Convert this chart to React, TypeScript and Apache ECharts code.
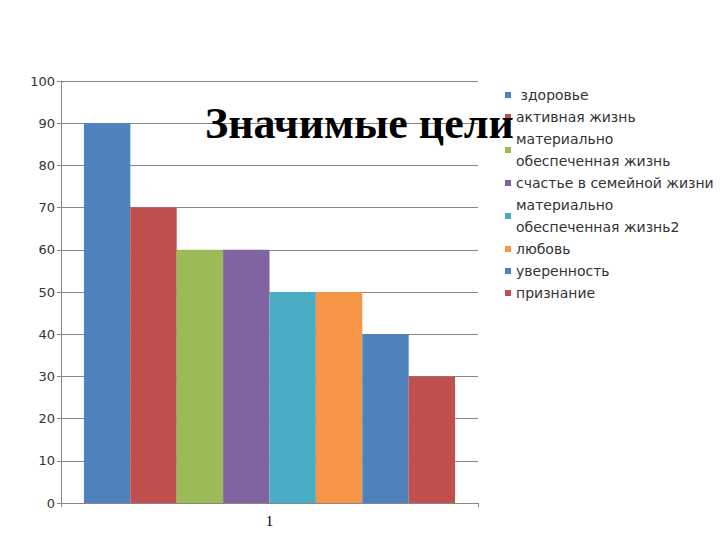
import React, { useEffect, useRef } from "react";
import * as echarts from "echarts";

const categories = ["1"];
const seriesNames = [
  " здоровье",
  "активная жизнь",
  "материально\nобеспеченная жизнь",
  "счастье в семейной жизни",
  "материально\nобеспеченная жизнь2",
  "любовь",
  "уверенность",
  "признание",
];
const seriesValues = [90, 70, 60, 60, 50, 50, 40, 30];
const seriesColors = ["#4F81BD", "#C0504D", "#9BBB59", "#8064A2", "#4BACC6", "#F79646", "#4F81BD", "#C0504D"];
const titleText = "Значимые цели";

export default function App() {
  const ref = useRef<HTMLDivElement>(null);
  useEffect(() => {
    if (!ref.current) return;
    const chart = echarts.init(ref.current, undefined, { renderer: "svg" });
    chart.setOption({
      animation: false,
      backgroundColor: "#ffffff",
      title: {
        text: titleText,
        left: 205,
        top: 101,
        padding: 0,
        textStyle: {
          fontFamily: "Liberation Serif",
          fontWeight: "bold",
          fontSize: 44,
          color: "#000000",
        },
        z: 10,
      },
      legend: {
        orient: "vertical",
        left: 505,
        top: 84,
        padding: 0,
        itemWidth: 6,
        itemHeight: 6,
        itemGap: 0,
        icon: "rect",
        data: seriesNames,
        textStyle: {
          fontFamily: "DejaVu Sans",
          fontSize: 14,
          lineHeight: 22,
          color: "#333333",
        },
      },
      grid: { left: 61, top: 81, right: 242, bottom: 37, containLabel: false },
      xAxis: {
        type: "category",
        data: categories,
        axisLine: { lineStyle: { color: "#868686" } },
        axisTick: { show: true, length: 4, lineStyle: { color: "#868686" } },
        axisLabel: {
          fontFamily: "Liberation Serif",
          fontSize: 15,
          color: "#000000",
          margin: 10,
        },
      },
      yAxis: {
        type: "value",
        min: 0,
        max: 100,
        interval: 10,
        axisLine: { show: true, lineStyle: { color: "#868686" } },
        axisTick: { show: true, length: 4, lineStyle: { color: "#868686" } },
        splitLine: { lineStyle: { color: "#868686" } },
        axisLabel: {
          fontFamily: "DejaVu Sans",
          fontSize: 13,
          color: "#333333",
          margin: 6,
        },
      },
      series: seriesNames.map((name, i) => ({
        type: "bar",
        name,
        data: [seriesValues[i]],
        barGap: "0%",
        barCategoryGap: "11%",
        itemStyle: { color: seriesColors[i] },
      })),
    });
    return () => chart.dispose();
  }, []);
  return <div ref={ref} style={{ position: "absolute", left: 0, top: 0, width: 720, height: 540 }} />;
}
